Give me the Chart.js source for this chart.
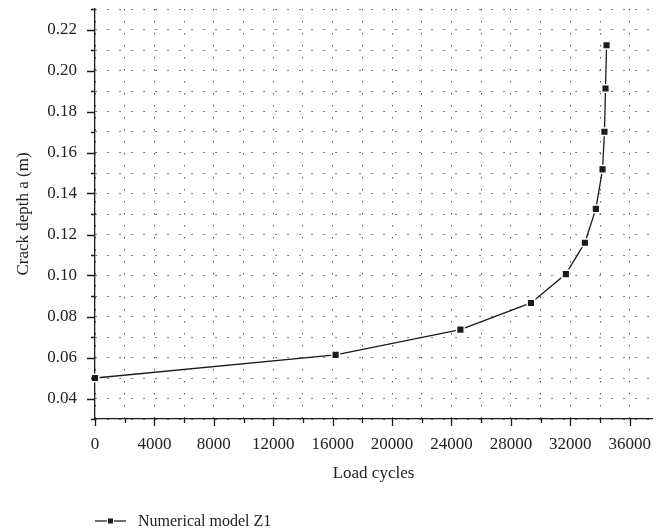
<!DOCTYPE html>
<html>
<head>
<meta charset="utf-8">
<script src="https://cdn.jsdelivr.net/npm/chart.js@4/dist/chart.umd.min.js"></script>
<style>
  html, body { margin: 0; padding: 0; background: #fff; }
  #wrap { position: relative; width: 671px; height: 532px; }
  #legend {
    position: absolute; left: 95px; top: 512px;
    font: 16px "Liberation Serif", serif; color: #222;
    display: flex; align-items: center; white-space: nowrap;
  }
  #legend svg { margin-right: 12px; }
</style>
</head>
<body>
<div id="wrap">
  <canvas id="chart" width="671" height="532"></canvas>
  <div id="legend">
    <svg width="31" height="10"><line x1="0" y1="5" x2="31" y2="5" stroke="#222" stroke-width="1.3"/><rect x="12.5" y="2" width="6" height="6" fill="#1a1a1a" stroke="#fff" stroke-width="1"/></svg>
    <span>Numerical model Z1</span>
  </div>
</div>
<script>
'use strict';

// ── DATA ──
const loadCycles = [0, 16200, 24600, 29350, 31700, 32980, 33720, 34170, 34300, 34370, 34440];
const crackDepth = [0.050, 0.0613, 0.0736, 0.0866, 0.1007, 0.116, 0.1325, 0.1518, 0.1701, 0.1912, 0.2123];
const seriesName = 'Numerical model Z1';

// grid/tick positions and the labelled ones
const xGrid = [0, 2000, 4000, 6000, 8000, 10000, 12000, 14000, 16000, 18000, 20000, 22000, 24000, 26000, 28000, 30000, 32000, 34000, 36000];
const xLabels = [0, 4000, 8000, 12000, 16000, 20000, 24000, 28000, 32000, 36000];
const yGrid = [0.03, 0.04, 0.05, 0.06, 0.07, 0.08, 0.09, 0.10, 0.11, 0.12, 0.13, 0.14, 0.15, 0.16, 0.17, 0.18, 0.19, 0.20, 0.21, 0.22, 0.23];
const yLabels = [0.04, 0.06, 0.08, 0.10, 0.12, 0.14, 0.16, 0.18, 0.20, 0.22];

const FONT = '"Liberation Serif", serif';
const TEXT = '#222';
const isLabel = (list, v) => list.some(l => Math.abs(l - v) < 1e-9);

// ── AXIS TICKS (major long, minor short, outward) ──
const axisTicks = {
  id: 'axisTicks',
  afterDraw(chart) {
    const { ctx, chartArea: a, scales: { x, y } } = chart;
    ctx.save();
    ctx.strokeStyle = '#1a1a1a';
    ctx.lineWidth = 1.3;
    ctx.beginPath();
    xGrid.forEach(v => {
      const px = Math.round(x.getPixelForValue(v)) + 0.5;
      const len = isLabel(xLabels, v) ? 7 : 4;
      ctx.moveTo(px, a.bottom);
      ctx.lineTo(px, a.bottom + len);
    });
    yGrid.forEach(v => {
      const py = Math.round(y.getPixelForValue(v)) + 0.5;
      const len = isLabel(yLabels, v) ? 8 : 4;
      ctx.moveTo(a.left, py);
      ctx.lineTo(a.left - len, py);
    });
    ctx.stroke();
    ctx.restore();
  }
};

const gridOpts = { color: '#5a5a5a', lineWidth: 1, drawTicks: false };
const borderOpts = { display: true, color: '#1a1a1a', width: 1.3, dash: [1.5, 10.5] };

new Chart(document.getElementById('chart').getContext('2d'), {
  type: 'line',
  data: {
    datasets: [{
      label: seriesName,
      data: loadCycles.map((v, i) => ({ x: v, y: crackDepth[i] })),
      borderColor: '#1a1a1a',
      borderWidth: 1.3,
      tension: 0,
      pointStyle: 'rect',
      pointRadius: 5.4,
      pointBackgroundColor: '#1a1a1a',
      pointBorderColor: '#ffffff',
      pointBorderWidth: 1.5,
      clip: false,
    }],
  },
  options: {
    responsive: false,
    animation: false,
    layout: { padding: { top: 9, right: 19, left: 0, bottom: 43 } },
    plugins: { legend: { display: false }, tooltip: { enabled: false } },
    scales: {
      x: {
        type: 'linear',
        min: 0,
        max: 37500,
        afterBuildTicks: (s) => { s.ticks = xGrid.map(v => ({ value: v })); },
        afterFit: (s) => { s.height = 70; s.paddingLeft = 0; s.paddingRight = 0; },
        grid: gridOpts,
        border: borderOpts,
        ticks: {
          autoSkip: false,
          maxRotation: 0,
          padding: 15,
          color: TEXT,
          font: { family: FONT, size: 17 },
          callback: (v) => isLabel(xLabels, v) ? String(v) : '',
        },
        title: {
          display: true,
          text: 'Load cycles',
          color: TEXT,
          font: { family: FONT, size: 17 },
          padding: { top: 0, bottom: 5 },
        },
      },
      y: {
        type: 'linear',
        min: 0.03,
        max: 0.23,
        afterBuildTicks: (s) => { s.ticks = yGrid.map(v => ({ value: v })); },
        afterFit: (s) => { s.width = 95; s.paddingTop = 0; s.paddingBottom = 0; },
        grid: gridOpts,
        border: borderOpts,
        ticks: {
          autoSkip: false,
          padding: 18,
          color: TEXT,
          font: { family: FONT, size: 17 },
          callback: (v) => isLabel(yLabels, v) ? v.toFixed(2) : '',
        },
        title: {
          display: true,
          text: 'Crack depth a (m)',
          color: TEXT,
          font: { family: FONT, size: 17 },
          padding: { top: 13, bottom: 0 },
        },
      },
    },
  },
  plugins: [axisTicks],
});
</script>
</body>
</html>
